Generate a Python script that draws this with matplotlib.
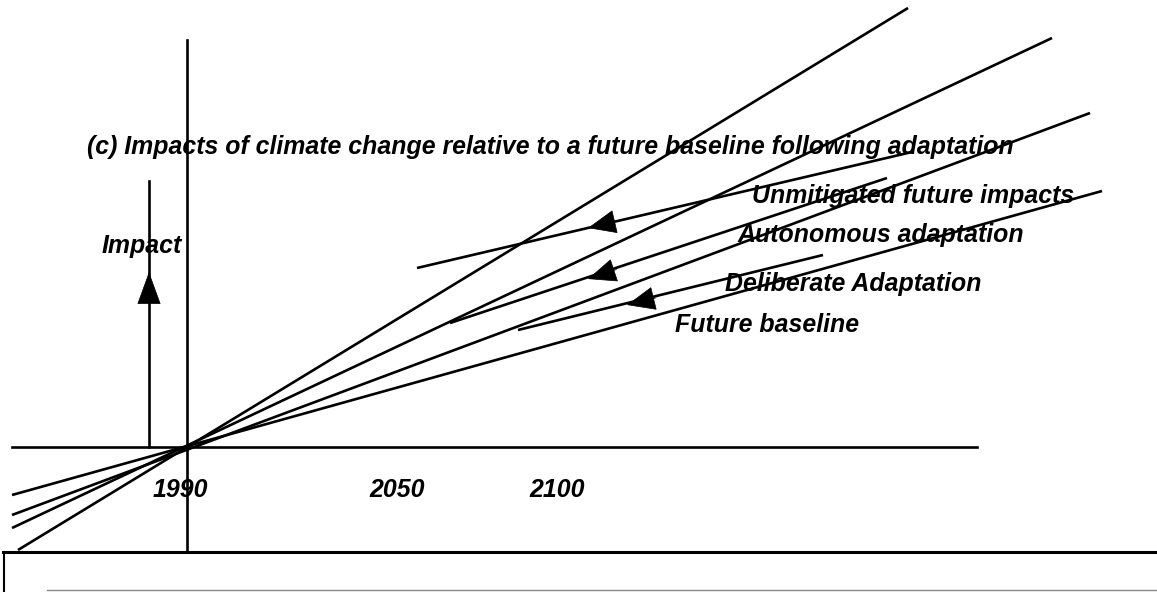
import matplotlib
matplotlib.use("Agg")
import matplotlib.pyplot as plt
import numpy as np

# ---- schematic data (x: time axis units, y: impact units; origin = 1990) ----
trend_names = ["Unmitigated future impacts (steepest)", "Autonomous", "Deliberate", "Future baseline"]
trend_x0 = [-169, -175, -175, -175]
trend_y0 = [-103, -81, -68, -48]
trend_x1 = [721, 865, 903, 915]
trend_y1 = [439, 409, 334, 256]

adapt_names = ["Unmitigated -> Autonomous", "Autonomous -> Deliberate", "Deliberate -> Baseline"]
adapt_x0 = [230, 263, 331]
adapt_y0 = [179, 124, 117]
adapt_x1 = [725, 700, 636]
adapt_y1 = [295, 269, 192]
arrow_tip_x = [401, 401, 440]
arrow_tip_y = [219, 168, 142]

series_labels = ["Unmitigated future impacts", "Autonomous adaptation",
                 "Deliberate Adaptation", "Future baseline"]
label_x = [565, 551, 538, 488]
label_y = [244, 205, 156, 115]

year_labels = ["1990", "2050", "2100"]
year_x = [-7, 210, 370]
year_y = -50

title = "(c) Impacts of climate change relative to a future baseline following adaptation"

# axes extents
h_axis_x = [-175, 790]
v_axis_y = [-103, 407]
impact_x = -38
impact_y = [0, 266]
impact_tip = 175

FS = 17.9
font = dict(family=["Liberation Sans", "DejaVu Sans"], weight="bold", style="italic",
            fontsize=FS, color="black")

fig = plt.figure(figsize=(11.57, 5.92), dpi=100)
ax = fig.add_axes([0, 0, 1, 1])
ax.set_xlim(-187, 970)
ax.set_ylim(-145, 447)
ax.axis("off")

LW = 1.9
# axes lines
ax.plot(h_axis_x, [0, 0], color="black", lw=LW)
ax.plot([0, 0], v_axis_y, color="black", lw=LW)

# trend lines
for x0, y0, x1, y1 in zip(trend_x0, trend_y0, trend_x1, trend_y1):
    ax.plot([x0, x1], [y0, y1], color="black", lw=LW, solid_capstyle="butt")

# adaptation lines with arrowheads
for x0, y0, x1, y1, tx, ty in zip(adapt_x0, adapt_y0, adapt_x1, adapt_y1, arrow_tip_x, arrow_tip_y):
    ax.plot([x0, x1], [y0, y1], color="black", lw=LW, solid_capstyle="butt")
    d = np.array([x1 - x0, y1 - y0], dtype=float)
    d /= np.hypot(*d)
    tail = (tx + d[0] * 30, ty + d[1] * 30)
    ax.annotate("", xy=(tx, ty), xytext=tail,
                arrowprops=dict(arrowstyle="-|>,head_length=19,head_width=8",
                                mutation_scale=1, color="black", lw=0.5,
                                shrinkA=0, shrinkB=0))

# Impact arrow
ax.plot([impact_x, impact_x], impact_y, color="black", lw=LW)
ax.annotate("", xy=(impact_x, impact_tip), xytext=(impact_x, impact_tip - 26),
            arrowprops=dict(arrowstyle="-|>,head_length=22,head_width=8",
                            mutation_scale=1, color="black", lw=0.5,
                            shrinkA=0, shrinkB=0))
ax.text(-85, 194, "Impact", ha="left", va="baseline", **font)

# texts
ax.text(-100, 293, title, ha="left", va="baseline", **font)
for s, x, y in zip(series_labels, label_x, label_y):
    ax.text(x, y, s, ha="left", va="baseline", **font)
for s, x in zip(year_labels, year_x):
    ax.text(x, year_y, s, ha="center", va="baseline", **font)

# bottom box
ax.plot([-184, 970], [-105, -105], color="black", lw=2.2)
ax.plot([-183, -183], [-105, -145], color="black", lw=1.5)
ax.plot([-140, 970], [-143, -143], color="#888888", lw=1)

fig.savefig("out.png", dpi=100)
